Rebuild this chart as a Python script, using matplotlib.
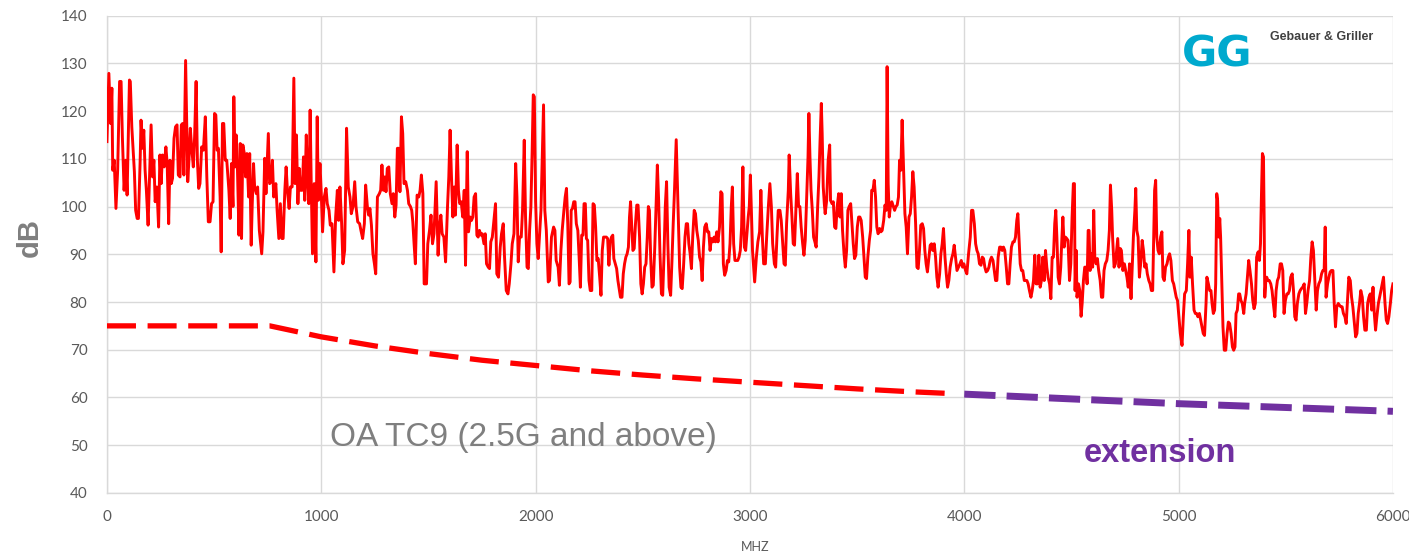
import matplotlib
matplotlib.use("Agg")
import matplotlib.pyplot as plt

# ---------------- data ----------------
freq_0_1000 = [0, 9, 17, 23, 27, 34, 42, 50, 59, 66, 72, 80, 88, 94, 105, 109, 116, 122, 128, 134,
               141, 147, 155, 159, 166, 172, 178, 184, 192, 198, 206, 213, 219, 225, 233, 241, 247, 253, 259, 267,
               275, 281, 288, 294, 300, 306, 313, 320, 327, 333, 341, 347, 353, 359, 367, 377, 383, 389, 395, 403,
               409, 416, 422, 428, 434, 442, 450, 459, 466, 473, 481, 488, 495, 502, 508, 514, 520, 528, 533, 539,
               545, 552, 559, 569, 575, 581, 588, 592, 598, 603, 609, 616, 622, 628, 634, 641, 647, 653, 661, 666,
               673, 678, 684, 689, 697, 703, 711, 722, 728, 736, 742, 753, 759, 766, 772, 778, 788, 794, 802, 809,
               816, 822, 830, 836, 842, 850, 856, 864, 872, 878, 884, 891, 897, 903, 911, 917, 923, 930, 936, 942,
               948, 953, 959, 967, 975, 981, 986, 994]
level_0_1000 = [113.6, 127.9, 117.4, 124.8, 107.6, 109.7, 99.6, 107.6, 126.2, 126.2, 114.6, 103.4, 109.7, 102.4, 126.5, 126.2, 116.7, 111.8, 107.3, 99.2,
                97.5, 97.5, 109.7, 118.1, 112.2, 116.0, 107.6, 103.4, 96.1, 104.8, 117.1, 106.2, 109.7, 101.0, 104.1, 95.7, 110.8, 104.8, 110.8, 108.3,
                112.5, 109.0, 96.4, 109.7, 104.8, 105.9, 114.3, 116.7, 117.1, 106.6, 106.2, 117.1, 117.4, 106.6, 130.6, 105.2, 110.1, 116.4, 112.5, 108.3,
                114.6, 126.2, 109.7, 103.8, 104.8, 112.5, 111.8, 118.8, 106.2, 96.8, 96.8, 100.6, 101.0, 119.5, 119.2, 111.8, 112.2, 102.0, 90.5, 117.4,
                117.4, 109.7, 109.7, 103.4, 97.5, 109.0, 100.0, 123.0, 108.3, 115.0, 107.6, 94.0, 113.2, 93.3, 112.9, 111.1, 106.2, 111.1, 102.0, 111.1,
                91.9, 100.6, 109.0, 104.1, 102.7, 104.1, 95.0, 90.1, 94.7, 110.1, 102.7, 115.3, 104.8, 105.2, 109.7, 102.0, 104.8, 99.2, 93.3, 100.6,
                93.3, 93.3, 103.4, 108.3, 103.4, 99.6, 104.1, 104.1, 126.9, 104.8, 115.0, 100.6, 108.0, 103.4, 103.4, 110.4, 101.3, 115.0, 105.5, 100.6,
                120.2, 105.2, 90.1, 104.8, 88.4, 118.8, 101.3, 109.0]

freq_1000_2000 = [1000, 1006, 1014, 1022, 1028, 1036, 1042, 1050, 1059, 1067, 1075, 1081, 1087, 1095, 1101, 1109, 1118, 1126, 1134, 1140,
                  1148, 1156, 1162, 1170, 1179, 1185, 1193, 1201, 1207, 1215, 1221, 1227, 1234, 1241, 1248, 1254, 1262, 1271, 1277, 1283,
                  1290, 1296, 1302, 1308, 1315, 1322, 1330, 1336, 1343, 1349, 1355, 1361, 1367, 1374, 1380, 1386, 1394, 1402, 1408, 1416,
                  1422, 1427, 1433, 1439, 1447, 1455, 1461, 1467, 1474, 1480, 1491, 1497, 1505, 1512, 1519, 1526, 1536, 1545, 1550, 1558,
                  1564, 1572, 1580, 1589, 1595, 1601, 1607, 1614, 1620, 1626, 1634, 1640, 1646, 1653, 1660, 1667, 1673, 1681, 1687, 1695,
                  1701, 1707, 1713, 1720, 1726, 1732, 1738, 1745, 1751, 1759, 1765, 1771, 1779, 1785, 1791, 1798, 1805, 1813, 1819, 1827,
                  1835, 1841, 1849, 1855, 1863, 1871, 1877, 1885, 1891, 1899, 1907, 1913, 1919, 1925, 1933, 1939, 1947, 1953, 1960, 1966,
                  1972, 1978, 1984, 1989, 1994, 2000, 2006, 2012]
level_1000_2000 = [102.7, 94.7, 102.0, 103.8, 100.6, 99.2, 96.1, 96.4, 86.3, 97.8, 103.4, 97.1, 104.1, 96.4, 88.0, 90.8, 116.4, 104.1, 102.0, 98.5,
                   100.0, 105.2, 100.0, 96.8, 96.4, 95.0, 93.3, 96.4, 104.5, 100.0, 98.2, 99.6, 96.1, 90.1, 88.0, 85.9, 102.0, 102.7, 103.4, 108.7,
                   103.4, 106.2, 103.1, 108.0, 108.3, 102.7, 100.6, 102.7, 97.8, 100.3, 112.2, 112.2, 103.1, 118.8, 115.3, 104.8, 105.2, 103.4, 100.6, 100.0,
                   99.2, 96.8, 92.2, 88.0, 102.4, 102.0, 103.4, 106.6, 102.7, 83.8, 83.8, 92.2, 95.0, 98.2, 92.2, 94.3, 105.2, 89.8, 95.0, 98.2,
                   94.3, 93.6, 88.4, 100.0, 106.2, 116.0, 106.9, 97.8, 104.1, 98.2, 112.9, 103.4, 100.6, 101.0, 97.8, 103.4, 87.7, 111.5, 94.7, 97.8,
                   97.1, 97.8, 102.0, 102.7, 94.0, 93.6, 95.0, 94.0, 94.3, 92.2, 94.3, 88.0, 87.3, 87.0, 92.6, 93.6, 96.8, 100.6, 85.9, 85.2,
                   91.5, 94.3, 96.4, 89.4, 82.4, 81.7, 83.8, 88.0, 92.2, 94.3, 109.0, 102.0, 88.4, 93.6, 93.6, 99.2, 113.9, 97.8, 87.3, 87.0,
                   95.0, 100.0, 111.8, 123.4, 123.0, 101.0, 92.2, 89.1]

freq_2000_3000 = [2025, 2037, 2043, 2050, 2059, 2065, 2074, 2084, 2090, 2096, 2105, 2111, 2118, 2124, 2132, 2138, 2144, 2150, 2156, 2161,
                  2166, 2172, 2178, 2184, 2190, 2197, 2203, 2209, 2215, 2221, 2226, 2232, 2237, 2243, 2249, 2255, 2262, 2268, 2274, 2280,
                  2286, 2292, 2299, 2305, 2311, 2317, 2323, 2330, 2336, 2342, 2348, 2354, 2360, 2365, 2372, 2378, 2384, 2390, 2396, 2403,
                  2409, 2415, 2421, 2427, 2433, 2438, 2443, 2448, 2454, 2460, 2466, 2472, 2478, 2485, 2491, 2497, 2503, 2509, 2515, 2521,
                  2526, 2531, 2537, 2543, 2549, 2556, 2562, 2568, 2574, 2580, 2587, 2593, 2599, 2605, 2611, 2617, 2623, 2630, 2636, 2642,
                  2648, 2656, 2666, 2672, 2678, 2684, 2690, 2697, 2703, 2709, 2715, 2721, 2727, 2733, 2740, 2746, 2752, 2759, 2765, 2771,
                  2777, 2783, 2789, 2796, 2802, 2808, 2814, 2820, 2827, 2833, 2839, 2845, 2851, 2858, 2864, 2870, 2876, 2882, 2889, 2895,
                  2901, 2907, 2913, 2918, 2924, 2930, 2937, 2943, 2949, 2955, 2961, 2967, 2974, 2980, 2986, 2992, 2997, 3002, 3012]
level_2000_3000 = [99.2, 121.3, 99.2, 95.0, 84.2, 84.5, 93.6, 95.7, 95.0, 88.7, 87.3, 83.5, 90.8, 95.0, 99.2, 102.0, 103.8, 96.4, 83.8, 84.2,
                   99.2, 99.6, 101.0, 101.0, 96.4, 95.0, 89.4, 83.1, 94.0, 94.0, 100.6, 100.6, 93.3, 92.9, 84.5, 82.4, 82.4, 100.6, 100.3, 95.7,
                   88.7, 89.1, 85.2, 81.4, 90.8, 93.6, 93.6, 93.6, 93.3, 87.7, 92.6, 93.6, 94.0, 89.1, 88.0, 87.0, 84.5, 82.8, 81.0, 81.0,
                   85.9, 88.0, 89.4, 90.1, 91.5, 97.8, 101.0, 96.4, 90.8, 91.2, 96.4, 100.3, 100.3, 93.6, 83.8, 81.7, 83.8, 87.3, 88.0, 93.6,
                   100.0, 99.2, 89.1, 83.1, 83.5, 91.5, 100.0, 108.7, 101.3, 90.5, 81.7, 81.4, 89.8, 100.0, 105.2, 92.2, 83.1, 81.4, 88.4, 96.4,
                   103.4, 114.0, 97.8, 87.3, 83.1, 82.8, 87.3, 93.6, 96.4, 96.4, 92.2, 90.1, 87.0, 93.6, 99.2, 98.5, 95.0, 92.9, 89.4, 88.4,
                   84.5, 91.5, 95.7, 96.4, 94.7, 94.7, 90.8, 93.3, 92.6, 93.6, 92.6, 94.7, 92.6, 95.7, 103.1, 102.7, 88.0, 85.6, 86.6, 88.7,
                   88.4, 92.2, 100.0, 104.1, 92.2, 88.7, 88.7, 88.7, 89.4, 90.8, 95.7, 108.3, 91.5, 90.8, 94.3, 97.8, 100.0, 106.6, 90.8]

freq_3000_4000 = [3022, 3030, 3037, 3045, 3051, 3058, 3064, 3072, 3078, 3086, 3093, 3100, 3106, 3114, 3120, 3126, 3132, 3140, 3146, 3152,
                  3159, 3165, 3171, 3179, 3183, 3190, 3196, 3202, 3208, 3215, 3221, 3227, 3233, 3239, 3246, 3252, 3258, 3264, 3271, 3275,
                  3280, 3285, 3291, 3297, 3303, 3309, 3316, 3322, 3327, 3333, 3337, 3342, 3347, 3351, 3358, 3365, 3372, 3376, 3383, 3389,
                  3395, 3401, 3407, 3414, 3420, 3426, 3432, 3439, 3445, 3451, 3457, 3463, 3470, 3476, 3482, 3488, 3494, 3501, 3507, 3513,
                  3519, 3526, 3532, 3538, 3544, 3550, 3557, 3563, 3568, 3574, 3580, 3586, 3592, 3598, 3605, 3611, 3617, 3624, 3630, 3636,
                  3640, 3645, 3650, 3656, 3662, 3669, 3675, 3681, 3687, 3693, 3698, 3704, 3710, 3717, 3723, 3729, 3735, 3742, 3748, 3754,
                  3760, 3766, 3773, 3779, 3785, 3791, 3797, 3804, 3810, 3816, 3822, 3828, 3835, 3841, 3847, 3853, 3860, 3866, 3872, 3878,
                  3885, 3891, 3897, 3903, 3910, 3916, 3922, 3928, 3934, 3941, 3947, 3953, 3959, 3966, 3973, 3980, 3986, 3992, 3998, 4006,
                  4012]
level_3000_4000 = [84.2, 89.4, 92.6, 94.7, 103.4, 93.6, 88.0, 88.0, 93.6, 100.0, 104.8, 100.0, 92.2, 88.0, 87.3, 93.6, 99.2, 99.2, 97.1, 92.9,
                   88.0, 87.7, 96.4, 103.4, 110.8, 102.7, 97.8, 92.2, 91.9, 100.0, 106.9, 100.0, 100.0, 95.7, 92.2, 89.8, 92.9, 101.0, 110.4, 119.5,
                   110.4, 103.4, 99.2, 93.6, 92.6, 91.5, 100.0, 106.2, 113.6, 121.6, 115.3, 104.1, 100.6, 98.5, 101.3, 109.7, 112.9, 101.3, 100.6, 101.0,
                   95.7, 95.4, 100.0, 102.7, 97.8, 102.7, 95.0, 90.1, 87.3, 90.8, 99.2, 100.0, 100.6, 96.4, 92.2, 89.1, 89.8, 95.7, 97.8, 97.8,
                   97.1, 93.6, 89.4, 85.2, 84.9, 89.4, 92.9, 95.0, 103.4, 103.4, 105.5, 102.0, 95.7, 94.3, 95.4, 94.7, 95.0, 97.1, 100.3, 99.2,
                   129.3, 104.8, 97.8, 100.3, 101.0, 100.0, 99.2, 100.0, 100.3, 102.0, 109.7, 107.6, 118.1, 107.6, 98.5, 95.7, 90.1, 97.8, 98.5, 102.0,
                   107.3, 104.1, 96.4, 87.3, 87.0, 90.8, 96.1, 96.4, 95.4, 90.8, 88.0, 86.3, 89.4, 91.9, 92.2, 90.8, 92.2, 89.4, 85.2, 83.1,
                   85.9, 90.1, 92.2, 95.4, 89.4, 85.9, 83.1, 84.5, 87.3, 89.1, 90.1, 91.9, 89.4, 86.6, 87.3, 88.0, 88.7, 87.3, 88.0, 86.6,
                   85.9]

freq_4000_5000 = [4020, 4028, 4034, 4040, 4047, 4053, 4059, 4065, 4071, 4078, 4084, 4090, 4096, 4102, 4109, 4115, 4121, 4127, 4134, 4140,
                  4146, 4152, 4158, 4165, 4171, 4177, 4183, 4189, 4196, 4202, 4208, 4214, 4220, 4227, 4233, 4239, 4245, 4250, 4255, 4261,
                  4267, 4273, 4280, 4286, 4292, 4298, 4304, 4311, 4317, 4323, 4329, 4335, 4342, 4348, 4354, 4360, 4366, 4373, 4379, 4385,
                  4391, 4398, 4404, 4410, 4416, 4422, 4427, 4432, 4438, 4444, 4450, 4455, 4460, 4466, 4472, 4478, 4484, 4491, 4497, 4503,
                  4509, 4514, 4517, 4522, 4526, 4533, 4539, 4545, 4550, 4556, 4562, 4568, 4573, 4578, 4582, 4587, 4593, 4599, 4604, 4609,
                  4615, 4621, 4627, 4634, 4640, 4646, 4652, 4658, 4665, 4671, 4677, 4682, 4688, 4692, 4699, 4705, 4711, 4716, 4722, 4728,
                  4733, 4740, 4747, 4753, 4759, 4765, 4771, 4778, 4784, 4789, 4796, 4800, 4805, 4811, 4817, 4823, 4830, 4836, 4842, 4848,
                  4854, 4861, 4867, 4873, 4879, 4884, 4888, 4893, 4898, 4904, 4910, 4916, 4922, 4927, 4933, 4939, 4946, 4952, 4958, 4964,
                  4971, 4977, 4983, 4989, 4995]
level_4000_5000 = [90.1, 93.6, 99.2, 99.2, 96.4, 92.2, 90.8, 90.1, 88.0, 87.7, 89.4, 89.1, 87.3, 86.3, 86.6, 87.3, 88.7, 89.4, 88.7, 86.6,
                   84.5, 84.5, 89.4, 91.5, 91.5, 90.8, 91.5, 90.8, 87.3, 83.8, 83.8, 88.0, 91.5, 92.6, 92.6, 93.6, 97.1, 98.5, 93.6, 88.0,
                   86.6, 86.6, 84.5, 84.5, 84.5, 83.8, 82.4, 81.0, 82.4, 84.5, 89.8, 83.8, 83.8, 89.8, 83.1, 84.5, 89.4, 84.5, 90.8, 87.3,
                   85.2, 83.8, 80.7, 89.4, 89.4, 96.4, 99.2, 93.6, 85.2, 83.8, 87.3, 92.9, 97.8, 91.5, 93.6, 93.3, 92.9, 84.5, 88.0, 97.8,
                   104.8, 104.8, 82.4, 90.8, 81.0, 83.8, 82.4, 77.0, 79.7, 84.5, 87.3, 87.3, 83.8, 95.0, 95.0, 86.6, 90.1, 87.3, 99.2, 89.4,
                   88.0, 89.1, 86.6, 84.5, 81.0, 81.0, 86.6, 88.0, 88.7, 90.8, 95.0, 104.5, 99.2, 93.6, 87.3, 88.0, 90.8, 93.3, 87.3, 91.2,
                   90.8, 86.6, 88.0, 86.6, 85.2, 83.1, 88.0, 80.7, 88.0, 93.6, 99.2, 103.8, 95.0, 93.6, 85.2, 88.0, 92.9, 90.8, 87.3, 88.0,
                   85.9, 84.5, 83.8, 82.4, 82.4, 93.6, 103.4, 105.5, 93.6, 90.8, 90.1, 93.6, 94.7, 85.2, 84.5, 87.3, 88.0, 89.4, 90.1, 88.7,
                   84.5, 83.8, 82.4, 81.0, 80.3]

freq_5000_6000 = [5000, 5008, 5016, 5022, 5028, 5036, 5042, 5048, 5053, 5059, 5065, 5072, 5078, 5084, 5090, 5097, 5103, 5109, 5115, 5121,
                  5128, 5132, 5139, 5145, 5151, 5156, 5162, 5168, 5173, 5178, 5182, 5187, 5192, 5196, 5202, 5207, 5213, 5220, 5226, 5232,
                  5238, 5245, 5251, 5257, 5263, 5268, 5274, 5280, 5285, 5291, 5297, 5304, 5308, 5315, 5321, 5327, 5333, 5340, 5346, 5352,
                  5358, 5364, 5371, 5377, 5382, 5386, 5391, 5396, 5399, 5402, 5407, 5411, 5417, 5423, 5430, 5436, 5442, 5449, 5455, 5461,
                  5467, 5474, 5480, 5486, 5492, 5498, 5505, 5511, 5517, 5523, 5530, 5536, 5542, 5548, 5554, 5561, 5567, 5573, 5579, 5586,
                  5592, 5598, 5604, 5611, 5617, 5623, 5629, 5636, 5642, 5648, 5654, 5661, 5667, 5673, 5679, 5684, 5688, 5695, 5701, 5707,
                  5713, 5720, 5726, 5732, 5738, 5745, 5751, 5757, 5763, 5769, 5776, 5782, 5788, 5794, 5801, 5807, 5813, 5819, 5826, 5832,
                  5838, 5844, 5850, 5857, 5863, 5869, 5876, 5882, 5888, 5894, 5901, 5907, 5913, 5919, 5925, 5932, 5938, 5944, 5950, 5956,
                  5963, 5969, 5975, 5981, 5988, 5994, 6000]
level_5000_6000 = [77.6, 73.4, 70.9, 76.9, 81.7, 82.4, 88.0, 95.0, 85.2, 89.4, 83.8, 78.3, 77.6, 77.6, 76.9, 77.6, 76.2, 74.8, 73.4, 73.0,
                   79.7, 85.2, 83.8, 82.4, 82.4, 79.7, 77.6, 78.3, 83.8, 102.7, 101.3, 93.6, 97.5, 93.6, 83.8, 74.8, 69.9, 69.9, 73.4, 75.8,
                   75.5, 73.4, 70.6, 69.9, 70.6, 77.6, 78.3, 81.7, 81.7, 80.3, 79.7, 77.6, 79.7, 81.7, 85.2, 88.7, 86.6, 83.8, 80.3, 78.6,
                   79.7, 89.4, 90.5, 88.7, 92.2, 101.3, 111.1, 110.4, 97.8, 81.0, 84.5, 85.2, 84.5, 84.5, 83.8, 82.4, 79.7, 76.9, 82.4, 84.5,
                   85.2, 88.0, 88.0, 86.6, 77.6, 80.3, 81.7, 81.7, 82.4, 85.2, 85.9, 82.4, 76.9, 76.2, 79.7, 81.7, 82.4, 82.8, 83.1, 83.8,
                   77.6, 79.7, 82.4, 84.5, 89.4, 92.6, 90.8, 83.8, 78.3, 82.4, 83.8, 84.5, 85.9, 86.6, 86.6, 95.7, 81.0, 83.8, 85.2, 86.3,
                   86.6, 86.6, 79.7, 74.8, 79.0, 79.7, 79.3, 79.0, 79.0, 77.6, 76.9, 75.5, 80.3, 85.2, 84.5, 81.0, 79.0, 76.2, 72.7, 73.4,
                   77.6, 79.7, 82.4, 81.0, 76.9, 74.1, 74.1, 79.7, 81.0, 81.7, 78.3, 83.1, 77.6, 74.1, 76.9, 79.7, 81.0, 82.4, 83.8, 85.2,
                   79.7, 76.2, 75.5, 76.9, 79.7, 82.4, 83.8]

limit_freq = [0, 760, 1000, 1250, 1500, 1750, 2000, 2250, 2500, 2750, 3000, 3250, 3500, 3750, 3950]
limit_db = [75.0, 75.0, 72.7, 70.8, 69.2, 67.8, 66.7, 65.6, 64.7, 63.9, 63.2, 62.5, 61.8, 61.2, 60.8]

ext_freq = [4000, 4500, 5000, 5500, 6000]
ext_db = [60.7, 59.7, 58.7, 57.9, 57.1]

x_ticks = [0, 1000, 2000, 3000, 4000, 5000, 6000]
y_ticks = [40, 50, 60, 70, 80, 90, 100, 110, 120, 130, 140]

# ---------------- plot ----------------
freq = (freq_0_1000 + freq_1000_2000 + freq_2000_3000 + freq_3000_4000
        + freq_4000_5000 + freq_5000_6000)
level = (level_0_1000 + level_1000_2000 + level_2000_3000 + level_3000_4000
         + level_4000_5000 + level_5000_6000)

fig = plt.figure(figsize=(14.09, 5.57), dpi=100)
ax = fig.add_axes([0.0759, 0.115, 0.9127, 0.857])

ax.plot(freq, level, color="#FF0000", lw=2.1, solid_joinstyle="round", zorder=3)
ax.plot(limit_freq, limit_db, color="#FF0000", lw=3.8, linestyle=(0, (5.5, 2.2)),
        dash_capstyle="butt", zorder=3)
ax.plot(ext_freq, ext_db, color="#7030A0", lw=5.0, linestyle=(0, (4.5, 1.6)),
        dash_capstyle="butt", zorder=3)

ax.set_xlim(0, 6000)
ax.set_ylim(40, 140)
ax.set_xticks(x_ticks)
ax.set_yticks(y_ticks)
ax.grid(True, color="#D9D9D9", lw=1.0)
ax.set_axisbelow(True)
for s in ["top", "right"]:
    ax.spines[s].set_visible(False)
for s in ["left", "bottom"]:
    ax.spines[s].set_color("#D9D9D9")
    ax.spines[s].set_linewidth(1.0)
ax.tick_params(length=0, labelsize=11, labelcolor="#595959")
for lab in ax.get_xticklabels() + ax.get_yticklabels():
    lab.set_family(["Lato", "DejaVu Sans"])
ax.tick_params(axis="x", pad=12)
ax.tick_params(axis="y", pad=14)

ax.set_ylabel("dB", fontsize=21, fontweight="bold", color="#7F7F7F",
              family=["Liberation Sans", "DejaVu Sans"], labelpad=12)
ax.yaxis.label.set_y(0.535)
fig.text(0.536, 0.018, "MHZ", fontsize=9, color="#595959",
         family=["Lato", "DejaVu Sans"], ha="center", va="center")

ax.text(1040, 51.7, "OA TC9 (2.5G and above)", fontsize=24, color="#7F7F7F",
        family=["Liberation Sans", "DejaVu Sans"], ha="left", va="center")
ax.text(4913, 48.3, "extension", fontsize=23.5, fontweight="bold", color="#7030A0",
        family=["Liberation Sans", "DejaVu Sans"], ha="center", va="center")

# logo
fig.text(0.8635, 0.902, "GG", fontsize=31, fontweight="heavy", color="#00A9CE",
         family=["DejaVu Sans"], ha="center", va="center")
fig.text(0.901, 0.933, "Gebauer & Griller", fontsize=9, fontweight="bold", color="#404040",
         family=["Liberation Sans", "DejaVu Sans"], ha="left", va="center")

fig.savefig("out.png", dpi=100, facecolor="white")
